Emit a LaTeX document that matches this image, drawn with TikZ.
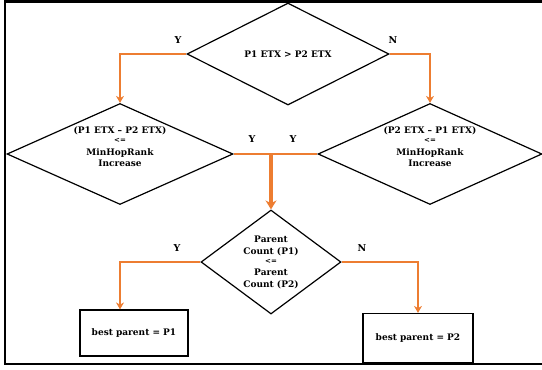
\documentclass[tikz,border=0pt]{standalone}
\usepackage{fontspec}
\setmainfont{DejaVu Serif}
\usetikzlibrary{shapes.geometric,arrows.meta}
\definecolor{floworange}{RGB}{237,125,49}

\begin{document}
\begin{tikzpicture}[x=1pt,y=-1pt,
        font=\bfseries\fontsize{9}{13}\selectfont,
        decision/.style={diamond, draw=black, line width=1.2pt, inner sep=0pt, align=center},
        result/.style={rectangle, draw=black, line width=1.2pt, inner sep=0pt},
        flow/.style={-{Stealth[length=7pt,width=8pt]}, line width=2pt, draw=floworange},
        link/.style={line width=2pt, draw=floworange},
        lbl/.style={inner sep=1pt, font=\bfseries\fontsize{9.5}{11}\selectfont}
    ]
        \useasboundingbox (0,0) rectangle (542,370);
        \draw[line width=2.5pt] (542,1.5) -- (5,1.5) -- (5,364) -- (542,364);

        \node[decision, aspect=2, minimum width=202pt, minimum height=102pt] (etx) at (288,54) {P1 ETX > P2 ETX};
        \node[decision, aspect=2.2, minimum width=226pt, minimum height=101pt] (lhs) at (120,154) {(P1 ETX -- P2 ETX)\\[-4pt]{\fontsize{7}{8}\selectfont <=}\\MinHopRank\\[-2pt]Increase\\[2pt]};
        \node[decision, aspect=2.2, minimum width=224pt, minimum height=101pt] (rhs) at (430,154) {(P2 ETX -- P1 ETX)\\[-4pt]{\fontsize{7}{8}\selectfont <=}\\MinHopRank\\[-2pt]Increase\\[2pt]};
        \node[decision, aspect=1.35, minimum width=140pt, minimum height=104pt] (cnt) at (271,262) {Parent\\[-1pt]Count (P1)\\[-4pt]{\fontsize{7}{8}\selectfont <=}\\[-1pt]Parent\\[-1pt]Count (P2)};
        \node[result, minimum width=108pt, minimum height=46pt] (bp1) at (134,333) {best parent = P1};
        \node[result, minimum width=110pt, minimum height=49pt] (bp2) at (418,338) {best parent = P2};

        \node[lbl] (y1) at (178,40) {Y};
        \node[lbl] (n1) at (393,40) {N};
        \node[lbl] (y2) at (252,139) {Y};
        \node[lbl] (y3) at (293,139) {Y};
        \node[lbl] (y4) at (177,248) {Y};
        \node[lbl] (n2) at (362,248) {N};

        \draw[flow] (etx.west) -| (lhs.north);
        \draw[flow] (etx.east) -| (rhs.north);
        \draw[link] (lhs.east) -- (rhs.west);
        \coordinate (merge) at (cnt.north |- lhs.east);
        \draw[flow, line width=3.5pt, -{Stealth[length=9pt,width=11pt]}] (merge) -- (cnt.north);
        \draw[flow] (cnt.west) -| (bp1.north -| lhs.north);
        \draw[flow] (cnt.east) -| (bp2.north);
    \end{tikzpicture}
\end{document}
